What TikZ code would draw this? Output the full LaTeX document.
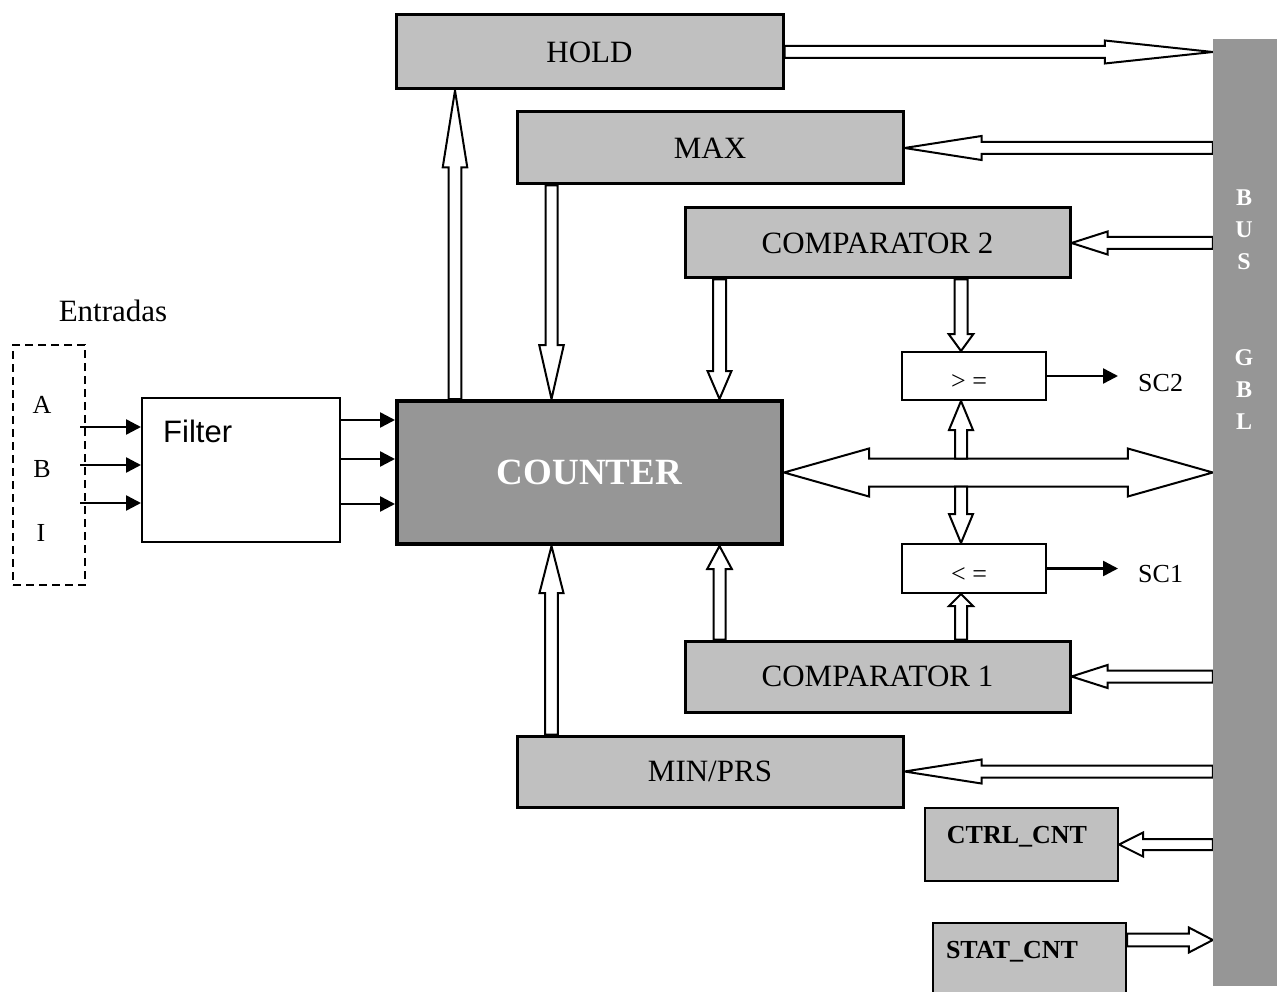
\documentclass[tikz,border=0pt]{standalone}
\usepackage{fontspec}
\setmainfont{Liberation Serif}
\newfontfamily\arialfont{Liberation Sans}
\usetikzlibrary{calc,arrows.meta}
\definecolor{lgrey}{RGB}{192,192,192}
\definecolor{dgrey}{RGB}{150,150,150}
\pgfdeclarelayer{background}
\pgfsetlayers{background,main}
\newcommand\fsz[1]{\fontsize{#1pt}{#1pt}\selectfont}
% hollow arrow: start, end, shaft half width, head half width, head length
\newcommand\harrow[5]{%
  \coordinate (hbS) at (#1);
  \coordinate (hbE) at (#2);
  \coordinate (hbH) at ($(hbE)!#5!(hbS)$);
  \draw[hollow] ($(hbS)!#3!90:(hbE)$) -- ($(hbH)!#3!90:(hbE)$) -- ($(hbH)!#4!90:(hbE)$)
     -- (hbE) -- ($(hbH)!#4!-90:(hbE)$) -- ($(hbH)!#3!-90:(hbE)$) -- ($(hbS)!#3!-90:(hbE)$) -- cycle;
}
% double hollow arrow
\newcommand\dharrow[5]{%
  \coordinate (hbS) at (#1);
  \coordinate (hbE) at (#2);
  \coordinate (hbA) at ($(hbS)!#5!(hbE)$);
  \coordinate (hbB) at ($(hbE)!#5!(hbS)$);
  \draw[hollow] (hbS) -- ($(hbA)!#4!90:(hbE)$) -- ($(hbA)!#3!90:(hbE)$) -- ($(hbB)!#3!90:(hbE)$)
     -- ($(hbB)!#4!90:(hbE)$) -- (hbE) -- ($(hbB)!#4!-90:(hbE)$) -- ($(hbB)!#3!-90:(hbE)$)
     -- ($(hbA)!#3!-90:(hbE)$) -- ($(hbA)!#4!-90:(hbE)$) -- cycle;
}
\begin{document}
\begin{tikzpicture}[x=1pt,y=-1pt,
  gbox/.style={draw, fill=lgrey, line width=3pt, inner sep=0pt, font=\fsz{31}},
  sbox/.style={draw, fill=white, line width=2pt, inner sep=0pt},
  hollow/.style={draw, fill=white, line width=2pt, line join=miter},
  sarr/.style={line width=2.5pt, -{Triangle[length=15pt,width=15pt]}},
  lab/.style={font=\fsz{26}, inner sep=0pt},
  blab/.style={font=\bfseries\fsz{26}, inner sep=0pt},
]
\clip (0,0) rectangle (1277,992);

% blocks
\node[gbox, minimum width=387pt, minimum height=74pt] (hold) at (589.5,52) {HOLD};
\node[gbox, minimum width=386pt, minimum height=72pt] (maxb) at (710,148) {MAX};
\node[gbox, minimum width=385pt, minimum height=70pt] (comp2) at (877.5,243) {COMPARATOR 2};
\node[gbox, fill=dgrey, line width=4pt, minimum width=385pt, minimum height=143pt,
      text=white, font=\bfseries\fsz{37}] (counter) at (589.5,472.5) {COUNTER};
\node[sbox, minimum width=144pt, minimum height=48pt] (ge) at (974,376) {};
\node[lab] (gelab) at (969,382) {> =};
\node[sbox, minimum width=144pt, minimum height=49pt] (le) at (974,568.5) {};
\node[lab] (lelab) at (969,575) {< =};
\node[gbox, minimum width=385pt, minimum height=71pt] (comp1) at (877.5,676.5) {COMPARATOR 1};
\node[gbox, minimum width=386pt, minimum height=71pt] (minprs) at (710,771.5) {MIN/PRS};
\node[gbox, line width=2pt, minimum width=193pt, minimum height=73pt] (ctrl) at (1021.5,844.5) {};
\node[blab] (ctrllab) at (1017,837) {CTRL\_CNT};
\node[gbox, line width=2pt, minimum width=193pt, minimum height=82pt] (stat) at (1029.5,964) {};
\node[blab] (statlab) at (1012,952) {STAT\_CNT};

% bus
\node[fill=dgrey, minimum width=64pt, minimum height=947pt, inner sep=0pt] (bus) at (1245,512.5) {};
\node[text=white, font=\bfseries\fontsize{24pt}{32pt}\selectfont, align=center, inner sep=0pt, anchor=north]
  (buslab) at (1244,190) {B\\U\\S\\[64pt]G\\B\\L};

% inputs and filter
\node[sbox, minimum width=198pt, minimum height=144pt] (filter) at (241,470) {};
\node[font=\arialfont\fsz{31}, anchor=west, inner sep=0pt] (filtlab) at (163,431) {Filter};
\node[draw, dash pattern=on 8pt off 5pt, line width=2pt, minimum width=72pt, minimum height=240pt,
      inner sep=0pt] (entr) at (49,465) {};
\node[lab, font=\fsz{31}] (entrlab) at (113,311) {Entradas};
\node[lab] (la) at (42,405) {A};
\node[lab] (lb) at (42,469) {B};
\node[lab] (li) at (41,533) {I};

\coordinate (sc2e) at ($(ge.east)+(71,0)$);
\coordinate (sc1e) at ($(le.east)+(71,0)$);
\node[lab, anchor=west] (sc2) at ($(sc2e)+(20,7)$) {SC2};
\node[lab, anchor=west] (sc1) at ($(sc1e)+(20,5.5)$) {SC1};

\begin{pgfonlayer}{background}
  \fill[white] (0,0) rectangle (1277,992);
  % thin arrows
  \foreach \yy/\nm in {427/a,465/b,503/c} {
    \coordinate (in\nm) at (80,\yy);
    \draw[sarr] (in\nm) -- (in\nm -| filter.west);
  }
  \foreach \yy/\nm in {420/a,459/b,504/c} {
    \coordinate (out\nm) at (340,\yy);
    \draw[sarr] (out\nm) -- (out\nm -| counter.west);
  }
  \draw[sarr] (ge.east) -- (sc2e);
  \draw[sarr] (le.east) -- (sc1e);

  % bus arrows
  \harrow{hold.east}{hold.east -| bus.west}{6pt}{11.5pt}{108pt}
  \harrow{maxb.east -| bus.west}{maxb.east}{6pt}{12pt}{77pt}
  \harrow{comp2.east -| bus.west}{comp2.east}{6pt}{11.5pt}{36pt}
  \harrow{comp1.east -| bus.west}{comp1.east}{6pt}{11.5pt}{36pt}
  \harrow{minprs.east -| bus.west}{minprs.east}{6pt}{12pt}{77pt}
  \harrow{ctrl.east -| bus.west}{ctrl.east}{5.5pt}{12pt}{24pt}
  \coordinate (so) at ($(stat.north east)+(0,18)$);
  \harrow{so}{so -| bus.west}{6.3pt}{12.5pt}{24pt}

  % counter <-> bus
  \dharrow{counter.east}{counter.east -| bus.west}{14pt}{24pt}{85pt}

  % vertical arrows
  \coordinate (xh) at ($(counter.north west)+(60,0)$);
  \harrow{xh}{xh |- hold.south}{6.3pt}{12.3pt}{77pt}
  \coordinate (xm) at ($(maxb.south west)+(36,0)$);
  \harrow{xm}{xm |- counter.north}{6pt}{12.3pt}{54pt}
  \coordinate (xm2) at ($(minprs.north west)+(36,0)$);
  \harrow{xm2}{xm2 |- counter.south}{6.3pt}{12pt}{47pt}
  \coordinate (xk) at ($(comp2.south west)+(36,0)$);
  \harrow{xk}{xk |- counter.north}{6.5pt}{12pt}{28pt}
  \coordinate (xk2) at ($(comp1.north west)+(36,0)$);
  \harrow{xk2}{xk2 |- counter.south}{6pt}{12.3pt}{23pt}

  \coordinate (xc) at ($(ge.south west)+(60,0)$);
  \coordinate (dtop) at ($(xc |- counter.east)+(0,-14)$);
  \coordinate (dbot) at ($(xc |- counter.east)+(0,14)$);
  \harrow{xc |- comp2.south}{xc |- ge.north}{6.5pt}{12.4pt}{17pt}
  \harrow{dtop}{xc |- ge.south}{6pt}{12pt}{29pt}
  \harrow{dbot}{xc |- le.north}{6pt}{12pt}{29pt}
  \harrow{xc |- comp1.north}{xc |- le.south}{6pt}{12pt}{12pt}
\end{pgfonlayer}
\end{tikzpicture}
\end{document}
